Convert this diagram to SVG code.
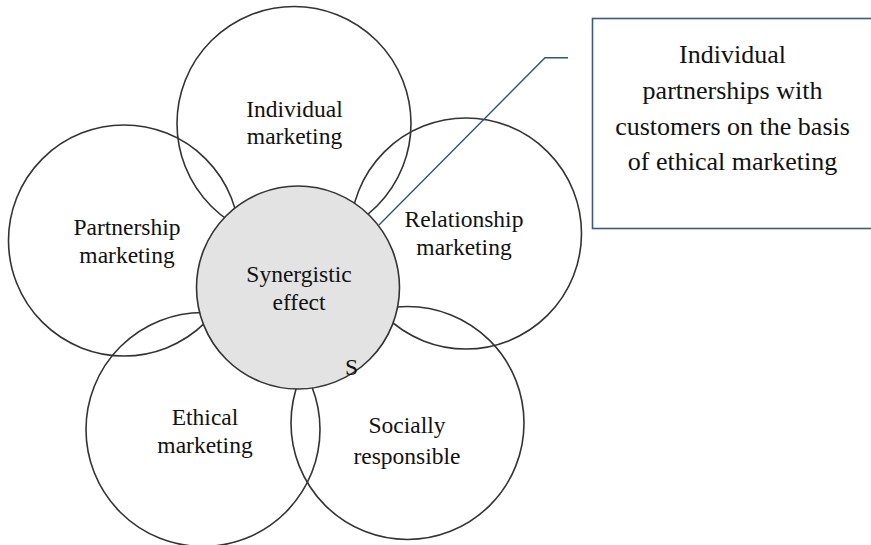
<svg xmlns="http://www.w3.org/2000/svg" width="871" height="545" viewBox="0 0 871 545">
<style>
.c{fill:none;stroke:#333;stroke-width:1.6}
.hub{fill:#e3e3e3;stroke:#333;stroke-width:1.6}
.t{font-family:"Liberation Serif","Times New Roman",serif;font-size:23.5px;fill:#111;text-anchor:middle}
.ct{font-family:"Liberation Serif","Times New Roman",serif;font-size:26px;fill:#111;text-anchor:middle}
.box{fill:#fff;stroke:#3d5a78;stroke-width:1.6}
.conn{fill:none;stroke:#2f5577;stroke-width:1.4}
</style>
<rect width="871" height="545" fill="#fff"/>
<g id="individual"><circle class="c" cx="294" cy="123.5" r="117"/><text class="t" x="294.5" y="117">Individual</text><text class="t" x="294.5" y="144">marketing</text></g>
<g id="partnership"><circle class="c" cx="124" cy="240.5" r="115.5"/><text class="t" x="127" y="235">Partnership</text><text class="t" x="127" y="262.5">marketing</text></g>
<g id="relationship"><circle class="c" cx="466" cy="233.5" r="115.5"/><text class="t" x="464" y="227">Relationship</text><text class="t" x="464" y="254.5">marketing</text></g>
<g id="ethical"><circle class="c" cx="203" cy="429.5" r="117"/><text class="t" x="205" y="425">Ethical</text><text class="t" x="205" y="452.5">marketing</text></g>
<g id="social"><circle class="c" cx="407.5" cy="423" r="116.5"/><text class="t" x="407" y="433">Socially</text><text class="t" x="407" y="464">responsible</text></g>
<g id="synergy"><circle class="hub" cx="298" cy="287.5" r="101.5"/><text class="t" x="299" y="282">Synergistic</text><text class="t" x="299" y="310">effect</text><text class="t" x="351.5" y="375">S</text></g>
<g id="connectors"><polyline class="conn" points="568,57.7 545,57.7 379,225"/></g>
<g id="callout"><rect class="box" x="592.5" y="18.5" width="281" height="210"/><text class="ct" x="732.5" y="63">Individual</text><text class="ct" x="732.5" y="98.5">partnerships with</text><text class="ct" x="732.5" y="134.5">customers on the basis</text><text class="ct" x="732.5" y="170">of ethical marketing</text></g>
</svg>
